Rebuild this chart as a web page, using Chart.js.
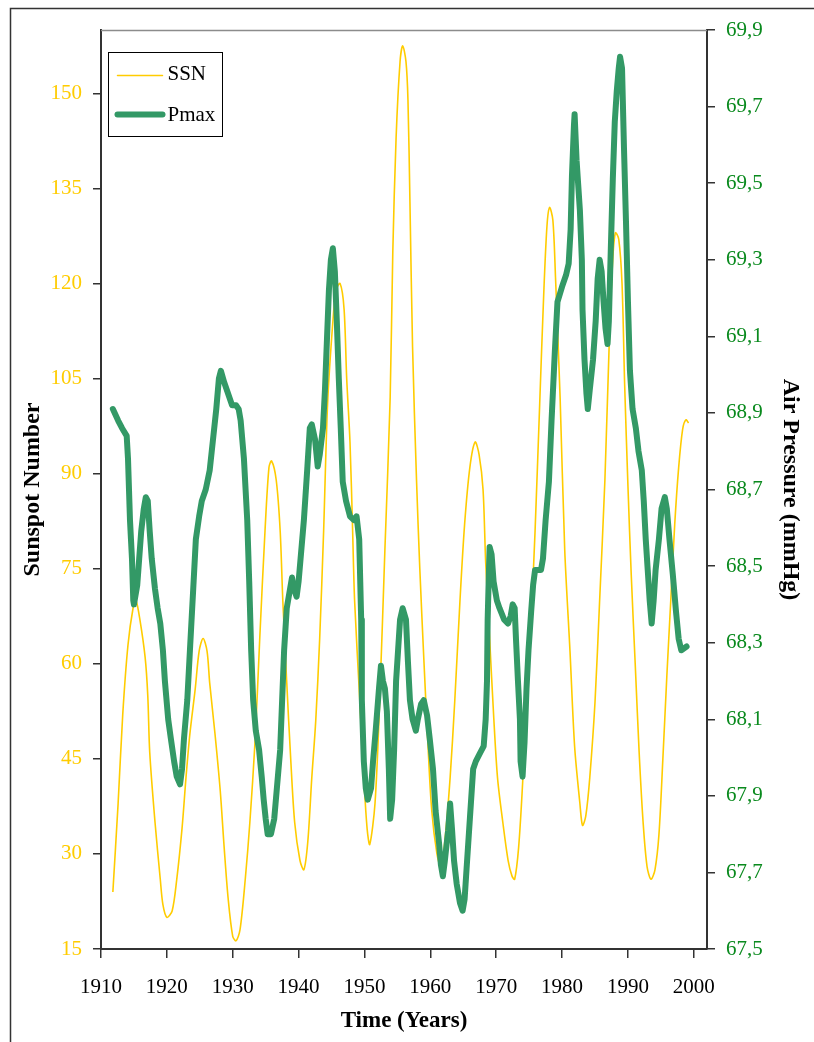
<!DOCTYPE html>
<html>
<head>
<meta charset="utf-8">
<title>SSN vs Pmax</title>
<script src="https://cdn.jsdelivr.net/npm/chart.js@4.4.1/dist/chart.umd.min.js"></script>
<style>
  html, body { margin: 0; padding: 0; background: #fff; }
  #wrap { width: 814px; height: 1042px; position: relative; }
</style>
</head>
<body>
<div id="wrap"><canvas id="chart" width="814" height="1042"></canvas></div>
<script>
// sunspot number (left axis)
const ssnYears = [
  1911.8, 1912.6, 1913.3, 1914.1, 1914.9, 1915.3, 1915.9, 1916.7, 1917.1, 1917.4,
  1918.2, 1919.0, 1919.4, 1920.0, 1920.8, 1921.5, 1922.3, 1922.9, 1923.5, 1924.3,
  1924.9, 1925.5, 1926.1, 1926.5, 1927.3, 1928.1, 1928.7, 1929.3, 1930.0, 1930.5,
  1931.1, 1931.9, 1932.6, 1933.4, 1934.1, 1934.9, 1935.5, 1935.9, 1936.6, 1937.2,
  1937.6, 1938.2, 1938.8, 1939.4, 1940.2, 1940.8, 1941.4, 1942.0, 1942.6, 1943.2,
  1943.8, 1944.4, 1945.2, 1945.7, 1946.3, 1946.9, 1947.3, 1947.8, 1948.2, 1948.5,
  1949.3, 1949.9, 1950.4, 1950.8, 1951.6, 1952.3, 1953.1, 1953.9, 1954.3, 1954.8,
  1955.4, 1955.8, 1956.3, 1956.6, 1956.9, 1957.3, 1957.9, 1958.4, 1959.0, 1959.6,
  1960.2, 1961.0, 1961.6, 1962.2, 1963.0, 1963.7, 1964.5, 1965.2, 1966.0, 1966.8,
  1967.4, 1968.0, 1968.4, 1969.0, 1969.6, 1970.2, 1971.0, 1971.8, 1972.4, 1972.8,
  1973.4, 1974.0, 1974.6, 1975.3, 1975.9, 1976.6, 1977.2, 1977.7, 1978.1, 1978.6,
  1979.0, 1979.7, 1980.4, 1981.2, 1981.9, 1982.7, 1983.1, 1983.6, 1984.2, 1985.0,
  1985.7, 1986.5, 1987.2, 1987.7, 1988.1, 1988.6, 1989.1, 1989.5, 1990.0, 1990.5,
  1991.1, 1991.7, 1992.3, 1992.9, 1993.5, 1994.1, 1994.7, 1995.3, 1995.9, 1996.5,
  1997.1, 1997.7, 1998.3, 1998.8, 1999.2
];
const ssnValues = [
  24, 38, 52, 63, 69, 70, 67, 61, 55, 46,
  35, 26, 22, 20, 21, 26, 34, 42, 49, 56,
  62, 64, 62, 57, 49, 40, 31, 23, 17, 16.3,
  18, 26, 35, 48, 64, 81, 91, 92, 89, 81,
  70, 57, 45, 35, 29, 27.5, 32, 42, 51, 64,
  81, 101, 114, 119, 120, 116, 105, 95, 81, 70,
  54, 42, 34, 31.5, 38, 54, 78, 102, 125, 143,
  155, 157.5, 155, 149, 133, 110, 89, 75, 61, 48,
  37, 30, 28, 32, 42, 54, 70, 82, 91, 95,
  93, 87.5, 76, 64, 52, 42, 35, 29, 26.5, 26,
  31, 41, 54, 67, 81, 101, 118, 129, 132, 130,
  121, 102, 78, 62, 47, 38, 34.5, 36, 42, 54,
  70, 89, 112, 124, 128, 127, 120, 104, 88, 74,
  60, 46, 35, 28, 26, 27.5, 33, 45, 58, 70,
  82, 91, 97, 98.5, 98
];

// maximum air pressure (right axis, mmHg)
const pmaxYears = [
  1911.8, 1912.6, 1913.2, 1913.9, 1914.1, 1914.4, 1914.7, 1914.9, 1915.0, 1915.5,
  1915.8, 1916.1, 1916.5, 1916.8, 1917.1, 1917.4, 1917.7, 1918.2, 1918.6, 1919.0,
  1919.4, 1919.7, 1920.2, 1920.6, 1921.1, 1921.5, 1922.0, 1922.3, 1922.6, 1923.1,
  1923.5, 1924.0, 1924.4, 1924.9, 1925.3, 1925.9, 1926.5, 1927.0, 1927.5, 1927.9,
  1928.2, 1928.7, 1929.3, 1929.9, 1930.5, 1930.9, 1931.2, 1931.7, 1932.2, 1932.5,
  1932.8, 1933.1, 1933.5, 1934.0, 1934.4, 1934.7, 1935.0, 1935.3, 1935.8, 1936.3,
  1936.7, 1937.2, 1937.5, 1937.8, 1938.2, 1938.7, 1939.0, 1939.3, 1939.7, 1940.0,
  1940.3, 1940.8, 1941.3, 1941.7, 1942.0, 1942.5, 1942.9, 1943.2, 1943.7, 1944.0,
  1944.3, 1944.6, 1944.9, 1945.2, 1945.5, 1945.8, 1946.1, 1946.4, 1946.7, 1947.2,
  1947.8, 1948.4, 1948.8, 1949.2, 1949.5, 1949.6, 1949.9, 1950.2, 1950.5, 1951.0,
  1951.3, 1951.7, 1952.2, 1952.5, 1952.8, 1953.1, 1953.4, 1953.7, 1953.9, 1954.2,
  1954.5, 1954.8, 1955.1, 1955.4, 1955.8, 1956.3, 1956.6, 1956.9, 1957.3, 1957.8,
  1958.1, 1958.6, 1959.0, 1959.5, 1959.9, 1960.4, 1960.8, 1961.3, 1961.6, 1961.9,
  1962.2, 1962.7, 1963.0, 1963.3, 1963.6, 1964.0, 1964.5, 1964.9, 1965.2, 1965.5,
  1966.0, 1966.5, 1966.9, 1967.5, 1968.1, 1968.4, 1968.6, 1968.7, 1968.9, 1969.0,
  1969.3, 1969.6, 1970.1, 1970.5, 1971.2, 1971.8, 1972.2, 1972.5, 1972.8, 1973.0,
  1973.3, 1973.6, 1973.7, 1974.0, 1974.3, 1974.6, 1974.9, 1975.3, 1975.6, 1975.9,
  1976.3, 1976.8, 1977.1, 1977.5, 1978.0, 1978.4, 1978.9, 1979.3, 1980.0, 1980.6,
  1981.0, 1981.3, 1981.5, 1981.8, 1981.9, 1982.2, 1982.7, 1983.0, 1983.1, 1983.4,
  1983.7, 1983.9, 1984.2, 1984.7, 1985.1, 1985.4, 1985.7, 1986.0, 1986.3, 1986.6,
  1986.9, 1987.1, 1987.4, 1987.7, 1988.0, 1988.3, 1988.6, 1988.8, 1989.1, 1989.4,
  1989.7, 1990.0, 1990.3, 1990.7, 1991.2, 1991.6, 1992.1, 1992.4, 1992.7, 1993.0,
  1993.3, 1993.6, 1993.9, 1994.2, 1994.7, 1995.1, 1995.6, 1995.9, 1996.3, 1996.8,
  1997.3, 1997.7, 1998.1, 1998.9
];
const pmaxValues = [
  68.91, 68.88, 68.86, 68.84, 68.78, 68.62, 68.52, 68.41, 68.40, 68.45,
  68.52, 68.59, 68.65, 68.68, 68.67, 68.59, 68.52, 68.44, 68.39, 68.35,
  68.28, 68.20, 68.10, 68.05, 67.99, 67.95, 67.93, 67.97, 68.05, 68.15,
  68.28, 68.44, 68.57, 68.63, 68.67, 68.70, 68.75, 68.83, 68.91, 68.99,
  69.01, 68.98, 68.95, 68.92, 68.92, 68.91, 68.88, 68.78, 68.62, 68.46,
  68.28, 68.15, 68.07, 68.02, 67.95, 67.89, 67.84, 67.80, 67.80, 67.84,
  67.92, 68.02, 68.15, 68.28, 68.39, 68.44, 68.47, 68.44, 68.42, 68.46,
  68.52, 68.62, 68.75, 68.86, 68.87, 68.83, 68.76, 68.79, 68.86, 68.96,
  69.09, 69.22, 69.30, 69.33, 69.27, 69.14, 68.99, 68.86, 68.72, 68.67,
  68.63, 68.62, 68.63, 68.57, 68.36, 68.15, 67.99, 67.92, 67.89, 67.92,
  67.99, 68.07, 68.18, 68.24, 68.20, 68.18, 68.12, 67.97, 67.84, 67.89,
  68.02, 68.20, 68.28, 68.36, 68.39, 68.36, 68.25, 68.15, 68.10, 68.07,
  68.10, 68.14, 68.15, 68.11, 68.05, 67.97, 67.86, 67.78, 67.72, 67.69,
  67.73, 67.81, 67.88, 67.81, 67.73, 67.67, 67.62, 67.60, 67.63, 67.71,
  67.84, 67.97, 67.99, 68.01, 68.03, 68.10, 68.20, 68.36, 68.49, 68.55,
  68.53, 68.46, 68.41, 68.39, 68.36, 68.35, 68.37, 68.40, 68.39, 68.31,
  68.20, 68.10, 67.99, 67.95, 68.04, 68.18, 68.28, 68.38, 68.45, 68.49,
  68.49, 68.49, 68.52, 68.62, 68.72, 68.88, 69.06, 69.19, 69.23, 69.26,
  69.29, 69.38, 69.52, 69.65, 69.68, 69.56, 69.43, 69.30, 69.17, 69.04,
  68.95, 68.91, 68.96, 69.04, 69.14, 69.25, 69.30, 69.27, 69.19, 69.12,
  69.08, 69.14, 69.33, 69.51, 69.66, 69.74, 69.80, 69.83, 69.80, 69.59,
  69.40, 69.19, 69.01, 68.91, 68.86, 68.80, 68.75, 68.67, 68.57, 68.49,
  68.41, 68.35, 68.41, 68.49, 68.57, 68.65, 68.68, 68.65, 68.57, 68.48,
  68.38, 68.31, 68.28, 68.29
];

const yearTicks = [1910, 1920, 1930, 1940, 1950, 1960, 1970, 1980, 1990, 2000];
const ssnTicks = [15, 30, 45, 60, 75, 90, 105, 120, 135, 150];
const pmaxTicks = [67.5, 67.7, 67.9, 68.1, 68.3, 68.5, 68.7, 68.9, 69.1, 69.3, 69.5, 69.7, 69.9];

const SSN_COLOR = '#FFCC00';
const PMAX_COLOR = '#339966';
const AXIS_COLOR = '#333333';
const FONT = '"Liberation Serif", "Times New Roman", serif';

const toPoints = (xs, ys) => xs.map((x, i) => ({ x: x, y: ys[i] }));
const setTicks = list => scale => { scale.ticks = list.map(v => ({ value: v })); };

// frame, top border of plot and the boxed legend
const decor = {
  id: 'decor',
  beforeDraw(chart) {
    const ctx = chart.ctx;
    ctx.save();
    ctx.fillStyle = '#fff';
    ctx.fillRect(0, 0, chart.width, chart.height);
    ctx.strokeStyle = '#333';
    ctx.lineWidth = 1.5;
    ctx.strokeRect(10.5, 8.5, chart.width + 20, chart.height + 20);
    ctx.restore();
  },
  afterDraw(chart) {
    const ctx = chart.ctx;
    const a = chart.chartArea;
    ctx.save();
    ctx.strokeStyle = '#8c8c8c';
    ctx.lineWidth = 1.5;
    ctx.beginPath();
    ctx.moveTo(a.left, a.top + 0.5);
    ctx.lineTo(a.right, a.top + 0.5);
    ctx.stroke();

    // legend box
    const bx = a.left + 7.5, by = a.top + 22.5, bw = 114, bh = 84;
    ctx.fillStyle = '#fff';
    ctx.fillRect(bx, by, bw, bh);
    ctx.strokeStyle = '#000';
    ctx.lineWidth = 1;
    ctx.strokeRect(bx, by, bw, bh);

    ctx.lineCap = 'round';
    ctx.strokeStyle = SSN_COLOR;
    ctx.lineWidth = 1.5;
    ctx.beginPath();
    ctx.moveTo(bx + 9, by + 23);
    ctx.lineTo(bx + 54, by + 23);
    ctx.stroke();

    ctx.strokeStyle = PMAX_COLOR;
    ctx.lineWidth = 6;
    ctx.beginPath();
    ctx.moveTo(bx + 9, by + 62);
    ctx.lineTo(bx + 54, by + 62);
    ctx.stroke();

    ctx.fillStyle = '#000';
    ctx.font = '21px ' + FONT;
    ctx.textBaseline = 'middle';
    ctx.textAlign = 'left';
    ctx.fillText('SSN', bx + 59, by + 22);
    ctx.fillText('Pmax', bx + 59, by + 63);
    ctx.restore();
  }
};

new Chart(document.getElementById('chart'), {
  type: 'line',
  data: {
    datasets: [
      {
        label: 'SSN',
        data: toPoints(ssnYears, ssnValues),
        yAxisID: 'ySSN',
        borderColor: SSN_COLOR,
        borderWidth: 1.6,
        pointRadius: 0,
        tension: 0.3,
        order: 2
      },
      {
        label: 'Pmax',
        data: toPoints(pmaxYears, pmaxValues),
        yAxisID: 'yP',
        borderColor: PMAX_COLOR,
        borderWidth: 6,
        borderCapStyle: 'round',
        borderJoinStyle: 'round',
        pointRadius: 0,
        tension: 0,
        order: 1
      }
    ]
  },
  options: {
    responsive: false,
    animation: false,
    layout: { padding: { top: 30, left: 0, right: 0, bottom: 0 } },
    plugins: {
      legend: { display: false },
      tooltip: { enabled: false }
    },
    scales: {
      x: {
        type: 'linear',
        min: 1910,
        max: 2002,
        afterBuildTicks: setTicks(yearTicks),
        afterFit: s => { s.height = 93; },
        border: { display: true, color: AXIS_COLOR, width: 2 },
        grid: { display: true, drawOnChartArea: false, drawTicks: true, tickLength: 9, color: AXIS_COLOR, lineWidth: 1.5 },
        ticks: { color: '#000', font: { family: FONT, size: 21 }, padding: 17, maxRotation: 0, autoSkip: false,
                 callback: v => String(v) },
        title: { display: true, text: 'Time (Years)', color: '#000', font: { family: FONT, size: 23, weight: 'bold' },
                 padding: { top: 0, bottom: 7 } }
      },
      ySSN: {
        type: 'linear',
        position: 'left',
        min: 15,
        max: 160,
        afterBuildTicks: setTicks(ssnTicks),
        afterFit: s => { s.width = 101; },
        border: { display: true, color: AXIS_COLOR, width: 2 },
        grid: { display: true, drawOnChartArea: false, drawTicks: true, tickLength: 8, color: AXIS_COLOR, lineWidth: 1.5 },
        ticks: { color: SSN_COLOR, font: { family: FONT, size: 21 }, padding: 11, autoSkip: false,
                 callback: v => String(v) },
        title: { display: true, text: 'Sunspot Number', color: '#000', font: { family: FONT, size: 24, weight: 'bold' },
                 padding: { top: 18.5, bottom: 0 } }
      },
      yP: {
        type: 'linear',
        position: 'right',
        min: 67.5,
        max: 69.9,
        afterBuildTicks: setTicks(pmaxTicks),
        afterFit: s => { s.width = 107; },
        border: { display: true, color: AXIS_COLOR, width: 2 },
        grid: { display: true, drawOnChartArea: false, drawTicks: true, tickLength: 8, color: AXIS_COLOR, lineWidth: 1.5 },
        ticks: { color: '#0a8a1e', font: { family: FONT, size: 21 }, padding: 11, autoSkip: false,
                 callback: v => v.toFixed(1).replace('.', ',') },
        title: { display: true, text: 'Air Pressure (mmHg)', color: '#000', font: { family: FONT, size: 24, weight: 'bold' },
                 padding: { top: 9.5, bottom: 0 } }
      }
    }
  },
  plugins: [decor]
});
</script>
</body>
</html>
